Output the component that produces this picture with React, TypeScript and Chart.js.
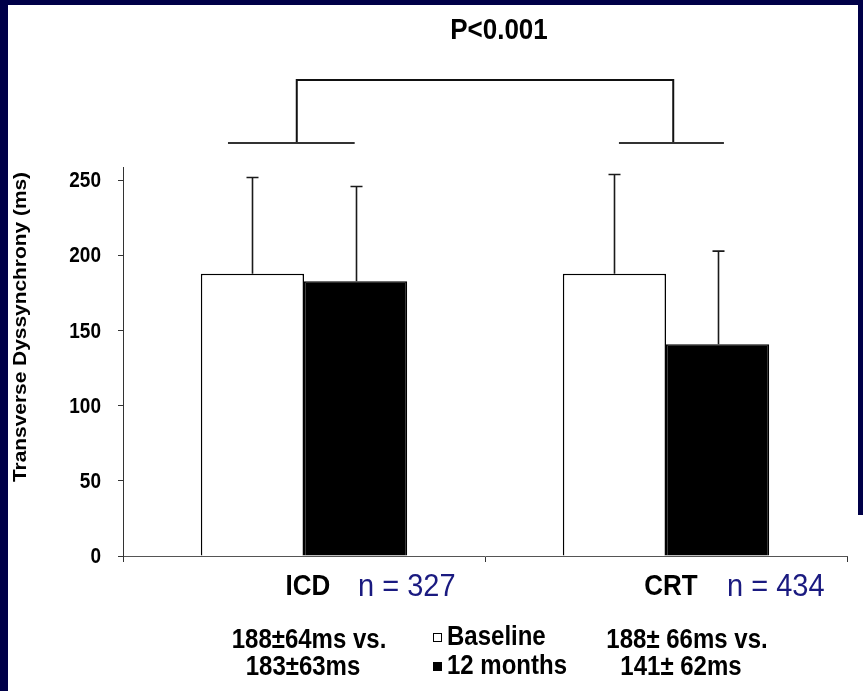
import React, { useEffect, useRef } from "react";
import { Chart, registerables } from "chart.js";

Chart.register(...registerables);

const categories = ["ICD", "CRT"];
const groupSizes = ["n = 327", "n = 434"];
const seriesNames = ["Baseline", "12 months"];
const baselineValues = [188, 188];
const baselineSD = [64, 66];
const monthValues = [183, 141];
const monthSD = [63, 62];
const yMin = 0;
const yMax = 259;
const yStep = 50;
const summaryLines = [
  ["188±64ms vs.", "183±63ms"],
  ["188± 66ms vs.", "141± 62ms"],
];
const pValueText = "P<0.001";
const yTitle = "Transverse Dyssynchrony (ms)";
// significance bracket, in value units (category index / y value)
const bracketLegs = [-0.02, 1.02];
const bracketArms = [
  [-0.21, 0.14],
  [-0.13, 0.16],
];
const bracketBase = 275;
const bracketTop = 317;

const FONT = "'Liberation Sans', Arial, Helvetica, sans-serif";
const NAVY = "#1a1a80";
const SY = 1.12;

function txt(
  ctx: CanvasRenderingContext2D,
  s: string,
  x: number,
  y: number,
  font: string,
  color: string,
  align: CanvasTextAlign,
  sx = 1,
  sy = SY
) {
  ctx.save();
  ctx.translate(x, y);
  ctx.scale(sx, sy);
  ctx.font = font;
  ctx.fillStyle = color;
  ctx.textAlign = align;
  ctx.textBaseline = "middle";
  ctx.fillText(s, 0, 0);
  ctx.restore();
}

const overlay = {
  id: "overlay",
  afterDatasetsDraw(chart: any) {
    const ctx: CanvasRenderingContext2D = chart.ctx;
    const y = chart.scales.y;
    const sds = [baselineSD, monthSD];
    const vals = [baselineValues, monthValues];
    ctx.save();
    ctx.strokeStyle = "#1a1a1a";
    ctx.lineWidth = 1.6;
    for (let d = 0; d < 2; d++) {
      const meta = chart.getDatasetMeta(d);
      meta.data.forEach((el: any, i: number) => {
        const top = y.getPixelForValue(vals[d][i] + sds[d][i]);
        const x = Math.round(el.x) + 0.5;
        ctx.beginPath();
        ctx.moveTo(x, el.y);
        ctx.lineTo(x, top);
        ctx.moveTo(x - 6, top);
        ctx.lineTo(x + 6, top);
        ctx.stroke();
      });
    }
    ctx.restore();
  },
  afterDraw(chart: any) {
    const ctx: CanvasRenderingContext2D = chart.ctx;
    const xs = chart.scales.x;
    const ys = chart.scales.y;
    const area = chart.chartArea;

    // bracket
    ctx.save();
    ctx.strokeStyle = "#111";
    ctx.lineWidth = 2;
    const yb = Math.round(ys.getPixelForValue(bracketBase));
    const yt = Math.round(ys.getPixelForValue(bracketTop));
    const l0 = xs.getPixelForValue(bracketLegs[0]);
    const l1 = xs.getPixelForValue(bracketLegs[1]);
    ctx.beginPath();
    ctx.moveTo(l0, yb);
    ctx.lineTo(l0, yt);
    ctx.lineTo(l1, yt);
    ctx.lineTo(l1, yb);
    ctx.stroke();
    ctx.strokeStyle = "#333";
    bracketArms.forEach((arm, i) => {
      ctx.beginPath();
      ctx.moveTo(xs.getPixelForValue(i + arm[0]), yb);
      ctx.lineTo(xs.getPixelForValue(i + arm[1]), yb);
      ctx.stroke();
    });
    ctx.restore();

    txt(ctx, pValueText, 499, 31, `bold 26px ${FONT}`, "#000", "center");

    // y tick labels
    ys.ticks.forEach((t: any) => {
      txt(ctx, String(t.value), 101, ys.getPixelForValue(t.value) + 1, `bold 19px ${FONT}`, "#000", "right");
    });

    // y title
    ctx.save();
    ctx.translate(21, area.top + 160);
    ctx.rotate(-Math.PI / 2);
    txt(ctx, yTitle, 0, 0, `bold 19px ${FONT}`, "#000", "center", 1.1, 1.0);
    ctx.restore();

    // category labels
    categories.forEach((c, i) => {
      const cx = xs.getPixelForValue(i);
      txt(ctx, c, cx + 4 + (i ? 1 : 0), area.bottom + 31, `bold 26px ${FONT}`, "#000", "center");
      txt(ctx, groupSizes[i], cx + 54 + (i ? 7 : 0), area.bottom + 32, `29px ${FONT}`, NAVY, "left", 1, 1.05);
      const sx = cx + (i ? 18 : 2);
      txt(ctx, summaryLines[i][0], sx + 3, area.bottom + 85, `bold 24px ${FONT}`, "#000", "center");
      txt(ctx, summaryLines[i][1], sx - 3, area.bottom + 112, `bold 24px ${FONT}`, "#000", "center");
    });

    // legend
    const lx = 433;
    const ly = [633, 662];
    chart.data.datasets.forEach((ds: any, i: number) => {
      ctx.save();
      ctx.fillStyle = ds.backgroundColor;
      ctx.fillRect(lx, ly[i], 9, 9);
      ctx.strokeStyle = "#000";
      ctx.lineWidth = 1;
      ctx.strokeRect(lx + 0.5, ly[i] + 0.5, 8, 8);
      ctx.restore();
      txt(ctx, seriesNames[i], lx + 14, ly[i] + 5, `bold 24px ${FONT}`, "#000", "left");
    });
  },
};

export default function App() {
  const ref = useRef<HTMLCanvasElement>(null);
  useEffect(() => {
    document.body.style.margin = "0";
    const chart = new Chart(ref.current!, {
      type: "bar",
      data: {
        labels: categories,
        datasets: [
          {
            label: seriesNames[0],
            data: baselineValues,
            backgroundColor: "#ffffff",
            borderColor: "#000000",
            borderWidth: 1.5,
            barPercentage: 1,
            categoryPercentage: 0.57,
          },
          {
            label: seriesNames[1],
            data: monthValues,
            backgroundColor: "#000000",
            borderColor: "#000000",
            borderWidth: 1.5,
            barPercentage: 1,
            categoryPercentage: 0.57,
          },
        ],
      },
      options: {
        animation: false,
        responsive: false,
        maintainAspectRatio: false,
        layout: { padding: { left: 0, top: 167, right: 16, bottom: 135 } },
        plugins: { legend: { display: false }, tooltip: { enabled: false } },
        scales: {
          x: {
            ticks: { display: false },
            grid: { drawOnChartArea: false, tickLength: 6, color: "#333", lineWidth: 1 },
            border: { color: "#555", width: 1 },
            afterFit: (s: any) => {
              s.height = 0;
            },
          },
          y: {
            min: yMin,
            max: yMax,
            ticks: {
              stepSize: yStep,
              includeBounds: false,
              display: false,
            },
            grid: { drawOnChartArea: false, tickLength: 5, color: "#333", lineWidth: 1 },
            border: { color: "#333", width: 1 },
            afterFit: (s: any) => {
              s.width = 123;
            },
          },
        },
      },
      plugins: [overlay],
    });
    return () => chart.destroy();
  }, []);
  return (
    <div style={{ position: "relative", width: 863, height: 691, background: "#fff", overflow: "hidden" }}>
      <div style={{ position: "absolute", left: 0, top: 0, width: 8, height: 691, background: "#000048" }} />
      <div style={{ position: "absolute", left: 0, top: 0, width: 863, height: 5, background: "#000048" }} />
      <div style={{ position: "absolute", left: 858, top: 0, width: 5, height: 515, background: "#000048" }} />
      <canvas ref={ref} width={863} height={691} style={{ position: "absolute", left: 0, top: 0 }} />
    </div>
  );
}
